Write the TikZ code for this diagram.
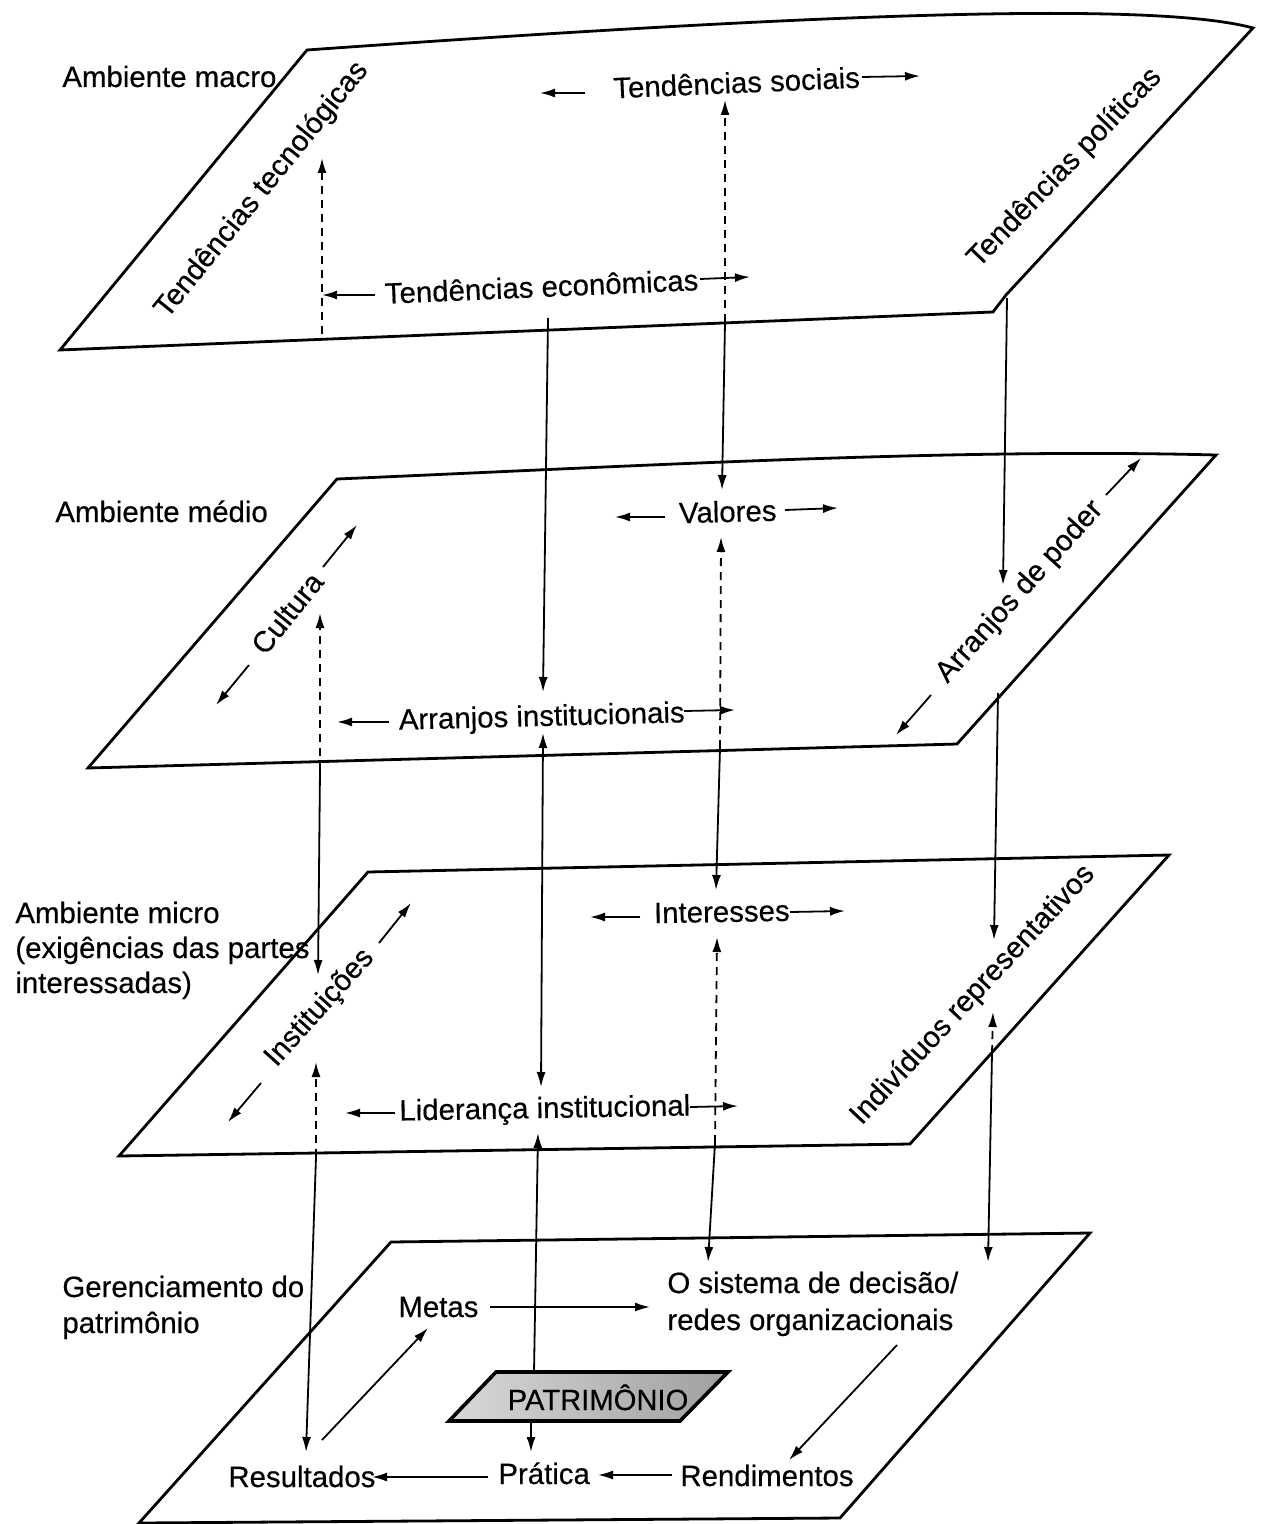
\documentclass[tikz,border=0pt]{standalone}
\usepackage{fontspec}
\setmainfont{Liberation Sans}[FakeBold=0.4]
\usetikzlibrary{arrows.meta}
\begin{document}
\begin{tikzpicture}[x=0.5pt,y=-0.5pt,
  plane/.style={draw=black, line width=1.4pt, line join=miter},
  txt/.style={font=\fontsize{14.7}{17.6}\selectfont, inner sep=0pt},
  lbl/.style={txt, anchor=base},
  lblw/.style={txt, anchor=base west},
  rlbl/.style={txt, anchor=center},
  arr/.style={line width=0.9pt, -{Latex[length=7.5pt,width=4.5pt]}},
  darr/.style={arr, dash pattern=on 4pt off 3pt},
  both/.style={line width=0.9pt, {Latex[length=7.5pt,width=4.5pt]}-{Latex[length=7.5pt,width=4.5pt]}}
]
\useasboundingbox (0,0) rectangle (1266,1524);
\fill[white] (0,0) rectangle (1266,1524);

% ---------- planes ----------
\draw[plane] (307,50) .. controls (800,15) and (1150,0) .. (1253,28) -- (1006,295) -- (993,312) -- (60,350) -- cycle;
\draw[plane] (337,479) .. controls (640,466) and (950,448) .. (1216,455) -- (957,744) -- (88,768) -- cycle;
\draw[plane] (368,872) -- (1169,855) -- (910,1144) -- (119,1156) -- cycle;
\draw[plane] (391,1242) -- (1090,1233) -- (840,1518) -- (139,1523) -- cycle;

% ---------- PATRIMONIO box ----------
\shade[left color=gray!30, right color=gray!75, draw=black, line width=1.8pt]
  (496,1372) -- (728,1372) -- (680,1421) -- (449,1421) -- cycle;
\node[txt, font=\fontsize{14.6}{16}\selectfont, anchor=base] (patr) at (598,1410) {PATRIMÔNIO};

% ---------- labels: macro ----------
\node[lblw] (macro) at (62,87) {Ambiente macro};
\node[rlbl, rotate=51] (tec) at (262,190) {Tendências tecnológicas};
\node[rlbl, rotate=46] (pol) at (1065,168) {Tendências políticas};
\node[lbl, rotate=2.5] (soc) at (737,93) {Tendências sociais};
\node[lbl, rotate=2.5] (eco) at (542,297) {Tendências econômicas};

% ---------- labels: medio ----------
\node[lblw] (medio) at (55,522) {Ambiente médio};
\node[lbl, rotate=1.5] (val) at (728,522) {Valores};
\node[rlbl, rotate=51] (cult) at (287,613) {Cultura};
\node[lbl, rotate=1.5] (arrinst) at (542,726) {Arranjos institucionais};
\node[rlbl, rotate=48] (poder) at (1020,592) {Arranjos de poder};

% ---------- labels: micro ----------
\node[lblw] (micro1) at (15,923) {Ambiente micro};
\node[lblw] (micro2) at (15,958) {(exigências das partes};
\node[lblw] (micro3) at (15,993) {interessadas)};
\node[lbl, rotate=1] (inter) at (722,922) {Interesses};
\node[rlbl, rotate=48] (instit) at (320,1008) {Instituições};
\node[lbl, rotate=1] (lider) at (545,1118) {Liderança institucional};
\node[rlbl, rotate=47] (indiv) at (973,995) {Indivíduos representativos};

% ---------- labels: gerenciamento ----------
\node[lblw] (ger1) at (62,1297) {Gerenciamento do};
\node[lblw] (ger2) at (62,1333) {patrimônio};
\node[lblw] (metas) at (398,1317) {Metas};
\node[lblw] (sis1) at (667,1293) {O sistema de decisão/};
\node[lblw] (sis2) at (667,1330) {redes organizacionais};
\node[lblw] (rend) at (680,1486) {Rendimentos};
\node[lblw] (prat) at (498,1484) {Prática};
\node[lblw] (res) at (228,1487) {Resultados};

% ---------- coordinates ----------
% plane 1
\coordinate (socL0) at (585,93);   \coordinate (socL1) at (540,93);
\coordinate (socR0) at (862,77);   \coordinate (socR1) at (920,76);
\coordinate (ecoL0) at (375,295);  \coordinate (ecoL1) at (322,295);
\coordinate (ecoR0) at (700,279);  \coordinate (ecoR1) at (750,277);
\coordinate (tecB) at (322,334);   \coordinate (tecT) at (322,158);
\coordinate (socE) at (725,322);   \coordinate (socT) at (725,100);  \coordinate (valT) at (722,490);
\coordinate (ecoD0) at (548,318);  \coordinate (ecoD1) at (543,692);
\coordinate (polD0) at (1007,298); \coordinate (polD1) at (1003,585);
% plane 2
\coordinate (valL0) at (665,517);  \coordinate (valL1) at (615,517);
\coordinate (valR0) at (785,510);  \coordinate (valR1) at (838,508);
\coordinate (cuU0) at (323,567);   \coordinate (cuU1) at (357,525);
\coordinate (cuD0) at (249,665);   \coordinate (cuD1) at (216,705);
\coordinate (aiL0) at (389,722);   \coordinate (aiL1) at (337,722);
\coordinate (aiR0) at (684,711);   \coordinate (aiR1) at (735,710);
\coordinate (cuE) at (320,770);    \coordinate (cuT) at (320,613);   \coordinate (insT) at (318,975);
\coordinate (aiB) at (543,733);    \coordinate (liT) at (541,1087);
\coordinate (vaE) at (720,748);    \coordinate (vaT) at (721,537);   \coordinate (inT) at (716,890);
\coordinate (poU0) at (1106,495);  \coordinate (poU1) at (1141,458);
\coordinate (poD0) at (931,695);   \coordinate (poD1) at (896,735);
\coordinate (poE) at (998,693);    \coordinate (ivT) at (994,940);
% plane 3
\coordinate (inL0) at (640,917);   \coordinate (inL1) at (590,917);
\coordinate (inR0) at (790,912);   \coordinate (inR1) at (845,911);
\coordinate (isU0) at (379,943);   \coordinate (isU1) at (411,903);
\coordinate (isD0) at (261,1083);  \coordinate (isD1) at (228,1122);
\coordinate (liL0) at (395,1113);  \coordinate (liL1) at (345,1113);
\coordinate (liR0) at (690,1107);  \coordinate (liR1) at (738,1106);
\coordinate (isE) at (316,1157);   \coordinate (isT) at (316,1062);  \coordinate (reT) at (306,1452);
\coordinate (inE) at (715,1143);   \coordinate (inT2) at (717,937);  \coordinate (siT) at (708,1262);
\coordinate (ivE) at (992,1053);   \coordinate (ivT2) at (993,1012); \coordinate (siT2) at (988,1262);
% plane 4
\coordinate (me0) at (490,1307);   \coordinate (me1) at (650,1307);
\coordinate (si0) at (897,1345);   \coordinate (si1) at (789,1460);
\coordinate (rn0) at (672,1475);   \coordinate (rn1) at (598,1475);
\coordinate (pr0) at (488,1477);   \coordinate (pr1) at (372,1477);
\coordinate (rs0) at (322,1440);   \coordinate (rs1) at (428,1328);
\coordinate (paB) at (531,1421);   \coordinate (paP) at (531,1452);
\coordinate (paT) at (534,1372);   \coordinate (liB) at (538,1133);

% ---------- arrows ----------
\draw[arr] (socL0) -- (socL1);
\draw[arr] (socR0) -- (socR1);
\draw[arr] (ecoL0) -- (ecoL1);
\draw[arr] (ecoR0) -- (ecoR1);
\draw[darr] (tecB) -- (tecT);
\draw[darr] (socE) -- (socT);
\draw[arr] (socE) -- (valT);
\draw[arr] (ecoD0) -- (ecoD1);
\draw[arr] (polD0) -- (polD1);

\draw[arr] (valL0) -- (valL1);
\draw[arr] (valR0) -- (valR1);
\draw[arr] (cuU0) -- (cuU1);
\draw[arr] (cuD0) -- (cuD1);
\draw[arr] (aiL0) -- (aiL1);
\draw[arr] (aiR0) -- (aiR1);
\draw[darr] (cuE) -- (cuT);
\draw[arr] (cuE) -- (insT);
\draw[both] (aiB) -- (liT);
\draw[darr] (vaE) -- (vaT);
\draw[arr] (vaE) -- (inT);
\draw[arr] (poU0) -- (poU1);
\draw[arr] (poD0) -- (poD1);
\draw[arr] (poE) -- (ivT);

\draw[arr] (inL0) -- (inL1);
\draw[arr] (inR0) -- (inR1);
\draw[arr] (isU0) -- (isU1);
\draw[arr] (isD0) -- (isD1);
\draw[arr] (liL0) -- (liL1);
\draw[arr] (liR0) -- (liR1);
\draw[darr] (isE) -- (isT);
\draw[arr] (isE) -- (reT);
\draw[darr] (inE) -- (inT2);
\draw[arr] (inE) -- (siT);
\draw[darr] (ivE) -- (ivT2);
\draw[arr] (ivE) -- (siT2);

\draw[arr] (me0) -- (me1);
\draw[arr] (si0) -- (si1);
\draw[arr] (rn0) -- (rn1);
\draw[arr] (pr0) -- (pr1);
\draw[arr] (rs0) -- (rs1);
\draw[arr] (paB) -- (paP);
\draw[arr] (paT) -- (liB);
\end{tikzpicture}
\end{document}
